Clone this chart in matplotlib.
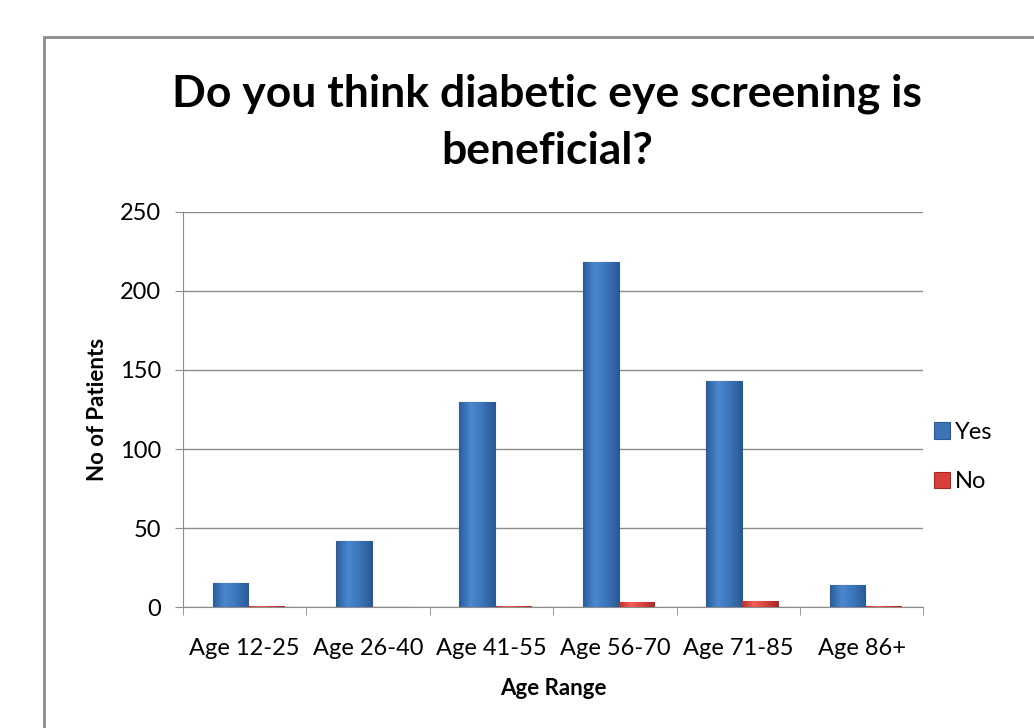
import numpy as np
import matplotlib.pyplot as plt
from matplotlib.patches import Rectangle
from matplotlib.colors import LinearSegmentedColormap

# dane
kategorie = ['Age 12-25', 'Age 26-40', 'Age 41-55', 'Age 56-70', 'Age 71-85', 'Age 86+']
tak = [15, 42, 130, 218, 143, 14]
nie = [1, 0.3, 1, 3, 4, 1]

plt.rcParams['font.family'] = ['Lato', 'DejaVu Sans']

fig = plt.figure(figsize=(10.34, 7.28), dpi=100)
ax = fig.add_axes([0.177, 0.166, 0.716, 0.543])

# ramka wokol wykresu
fig.patches.append(Rectangle((0.0426, -0.05), 1.2, 0.999, transform=fig.transFigure,
                             fill=False, edgecolor='#8c8c8c', lw=2))

niebieski = LinearSegmentedColormap.from_list('n', ['#2b5d9c', '#4a88cf', '#3b74b9', '#2a5a94'])
czerwony = LinearSegmentedColormap.from_list('c', ['#b8302c', '#f0605a', '#d9403b', '#a82a26'])


def cieniuj(bary, cmap):
    # poziomy gradient w kazdym slupku
    grad = np.linspace(0, 1, 64).reshape(1, -1)
    for b in bary:
        x0, y0 = b.get_x(), b.get_y()
        im = ax.imshow(grad, cmap=cmap, aspect='auto', zorder=3,
                       extent=[x0, x0 + b.get_width(), y0, y0 + b.get_height()])
        im.set_clip_path(b)


x = np.arange(len(kategorie))
w = 0.29
b1 = ax.bar(x + 0.03 - w / 2, tak, w, color='#3b74b9', edgecolor='#2a5a94', lw=0.8, label='Yes', zorder=3)
b2 = ax.bar(x + 0.03 + w / 2, nie, w, color='#d9403b', edgecolor='#a52a26', lw=0.8, label='No', zorder=3)
cieniuj(b1, niebieski)
cieniuj(b2, czerwony)

ax.set_xlim(-0.5, len(kategorie) - 0.5)
ax.set_ylim(0, 250)
ax.set_yticks(range(0, 251, 50))
ax.yaxis.grid(True, color='#8c8c8c', lw=1)
ax.set_axisbelow(True)

ax.set_xticks(x)
ax.set_xticklabels(kategorie, fontsize=17)
ax.set_xticks(np.arange(-0.5, len(kategorie)), minor=True)
ax.tick_params(axis='x', which='major', length=0, pad=22)
ax.tick_params(axis='x', which='minor', length=6, color='#8c8c8c')
ax.tick_params(axis='y', length=6, color='#8c8c8c', labelsize=17, pad=10)

for s in ['top', 'right']:
    ax.spines[s].set_visible(False)
ax.spines['left'].set_color('#8c8c8c')
ax.spines['bottom'].set_color('#8c8c8c')

ax.set_xlabel('Age Range', fontsize=16, fontweight='bold', labelpad=14)
ax.set_ylabel('No of Patients', fontsize=16, fontweight='bold', labelpad=8)

fig.text(0.529, 0.832, 'Do you think diabetic eye screening is\nbeneficial?', ha='center', va='center',
         fontsize=32, fontweight='bold', linespacing=1.5)

ax.legend(loc='center left', bbox_to_anchor=(0.985, 0.38), frameon=False, fontsize=17,
          handlelength=0.7, handleheight=0.7, handletextpad=0.2, labelspacing=1.2)

fig.savefig('out.png', dpi=100)
